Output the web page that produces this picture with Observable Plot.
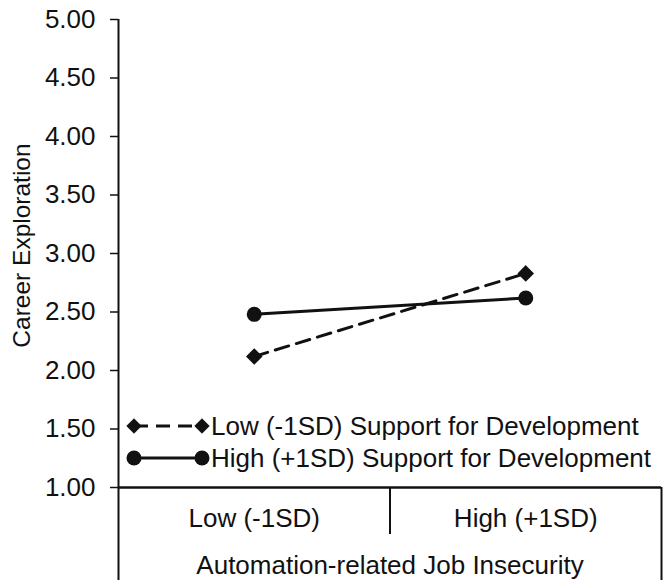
<!DOCTYPE html>
<html>
<head>
<meta charset="utf-8">
<script src="https://cdn.jsdelivr.net/npm/d3@7"></script>
<script src="https://cdn.jsdelivr.net/npm/@observablehq/plot@0.6"></script>
<style>
  html, body { margin: 0; padding: 0; background: #fff; }
  #wrap { position: relative; width: 668px; height: 585px; font-family: "Liberation Sans", Arial, sans-serif; }
  #legend { position: absolute; left: 126px; top: 410px; font-size: 26px; color: #111; }
  .row { display: flex; align-items: center; height: 32px; white-space: nowrap; }
  .row svg { display: block; margin-right: 1px; }
</style>
</head>
<body>
<div id="wrap"></div>
<script>
const categories = ["Low (-1SD)", "High (+1SD)"];
const seriesNames = ["Low (-1SD) Support for Development", "High (+1SD) Support for Development"];
const lowSupport = [2.12, 2.83];
const highSupport = [2.48, 2.62];
const yTicks = [1.0, 1.5, 2.0, 2.5, 3.0, 3.5, 4.0, 4.5, 5.0];
const yLabel = "Career Exploration";
const xLabel = "Automation-related Job Insecurity";

const data = [];
categories.forEach((c, i) => {
  data.push({series: seriesNames[0], cat: c, i, value: lowSupport[i]});
  data.push({series: seriesNames[1], cat: c, i, value: highSupport[i]});
});
const pos = d => d.i + 0.5;
const ink = "#111";

const chart = Plot.plot({
  width: 668,
  height: 585,
  marginLeft: 118,
  marginRight: 7,
  marginTop: 19,
  marginBottom: 98,
  style: {fontFamily: "'Liberation Sans', Arial, sans-serif", fontSize: "26px", color: ink, background: "#fff"},
  x: {type: "linear", domain: [0, categories.length], axis: null},
  y: {domain: [1, 5], axis: null},
  marks: [
    Plot.axisY({ticks: yTicks, tickFormat: d3.format(".2f"), tickSize: 8, tickPadding: 15, fontSize: 26, label: null, stroke: ink, strokeWidth: 1.5, fill: ink}),
    Plot.ruleX([0], {stroke: ink, strokeWidth: 2, insetBottom: -93}),
    Plot.ruleY([1], {stroke: ink, strokeWidth: 2.5}),
    Plot.axisX({ticks: [1], tickSize: 47, tickFormat: () => "", label: null, stroke: ink, strokeWidth: 2}),
    Plot.axisX({ticks: [categories.length], tickSize: 93, tickFormat: () => "", label: null, stroke: ink, strokeWidth: 2}),
    Plot.text(categories, {x: (d, i) => i + 0.5, frameAnchor: "bottom", dy: 31, lineAnchor: "middle", fontSize: 26, fill: ink}),
    Plot.text([xLabel], {frameAnchor: "bottom", dy: 78, lineAnchor: "middle", fontSize: 26, fill: ink}),
    Plot.text([yLabel], {frameAnchor: "left", rotate: -90, dx: -96, dy: -8, textAnchor: "middle", lineAnchor: "middle", fontSize: 24.5, fill: ink}),
    Plot.line(data.filter(d => d.series === seriesNames[0]), {x: pos, y: "value", stroke: ink, strokeWidth: 3, strokeDasharray: "14,8"}),
    Plot.line(data.filter(d => d.series === seriesNames[1]), {x: pos, y: "value", stroke: ink, strokeWidth: 3}),
    Plot.dot(data.filter(d => d.series === seriesNames[0]), {x: pos, y: "value", symbol: "diamond2", r: 6.5, fill: ink, stroke: ink}),
    Plot.dot(data.filter(d => d.series === seriesNames[1]), {x: pos, y: "value", r: 7.5, fill: ink, stroke: null})
  ]
});

const wrap = document.getElementById("wrap");
wrap.appendChild(chart);

// Legend inside plot area
const legend = document.createElement("div");
legend.id = "legend";
const styles = [
  {dash: "14,8", marker: "diamond"},
  {dash: null, marker: "circle"}
];
seriesNames.forEach((name, k) => {
  const row = document.createElement("div");
  row.className = "row";
  const svg = d3.create("svg").attr("width", 84).attr("height", 20);
  svg.append("line").attr("x1", 8).attr("x2", 76).attr("y1", 10).attr("y2", 10)
    .attr("stroke", ink).attr("stroke-width", 3)
    .attr("stroke-dasharray", styles[k].dash);
  [8, 76].forEach(cx => {
    if (styles[k].marker === "circle") {
      svg.append("circle").attr("cx", cx).attr("cy", 10).attr("r", 7.5).attr("fill", ink);
    } else {
      svg.append("path").attr("transform", `translate(${cx},10)`)
        .attr("d", d3.symbol(d3.symbolDiamond2, 6.5 * 6.5 * Math.PI)()).attr("fill", ink).attr("stroke", ink);
    }
  });
  row.appendChild(svg.node());
  const span = document.createElement("span");
  span.textContent = name;
  row.appendChild(span);
  legend.appendChild(row);
});
wrap.appendChild(legend);
</script>
</body>
</html>
